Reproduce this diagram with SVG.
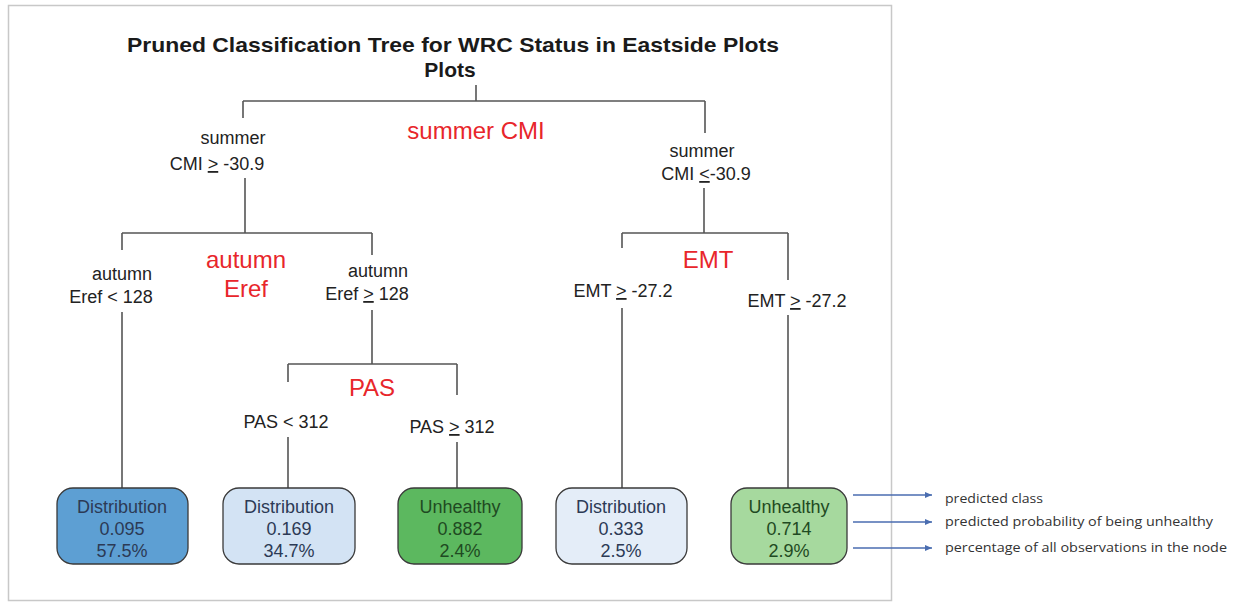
<svg xmlns="http://www.w3.org/2000/svg" width="1233" height="605" viewBox="0 0 1233 605">
<style>
text{font-family:"Liberation Sans",Arial,sans-serif}
.t{font-size:21px;font-weight:bold;fill:#1a1a1a;text-anchor:middle}
.c{font-size:18px;fill:#222;text-anchor:middle}
.r{font-size:24px;fill:#e8262b;text-anchor:middle}
.n{font-size:18px;text-anchor:middle}
.d{fill:#2c3a55}
.u{fill:#1f4a22}
.box{stroke:#3a3a3a;stroke-width:1.3}
.e{stroke:#555;stroke-width:1.6;fill:none}
.a{stroke:#4a6db0;stroke-width:1.3;fill:none;marker-end:url(#ah)}
.l{font-family:"Open Sans","Liberation Sans",sans-serif;font-size:13.5px;fill:#333}
</style>
<defs>
<marker id="ah" markerWidth="8" markerHeight="8" refX="7" refY="4" orient="auto" markerUnits="userSpaceOnUse">
<path d="M0,1 L7,4 L0,7 Z" fill="#4a6db0"/>
</marker>
</defs>
<rect x="0" y="0" width="1233" height="605" fill="#fff"/>
<rect x="8.5" y="5.5" width="883" height="595" fill="#fff" stroke="#c8c8c8" stroke-width="1.5"/>
<text class="t" x="453" y="52" textLength="652" lengthAdjust="spacingAndGlyphs">Pruned Classification Tree for WRC Status in Eastside Plots</text>
<text class="t" x="450" y="77">Plots</text>
<g id="connectors">
<path class="e" d="M476,85 V101 M243,101 H705 M243,101 V118 M705,101 V133"/>
<path class="e" d="M245,178 V233 M122,233 H372 M122,233 V250 M372,233 V255"/>
<path class="e" d="M704,188 V233 M622,233 H788 M622,233 V248 M788,233 V280"/>
<path class="e" d="M122,312 V488"/>
<path class="e" d="M372,310 V364 M288,364 H457 M288,364 V382 M457,364 V395"/>
<path class="e" d="M288,437 V488 M457,442 V488"/>
<path class="e" d="M622,308 V488 M788,315 V488"/>
</g>
<g id="split-root"><text class="r" x="476" y="139">summer CMI</text></g>
<g id="label-l1">
<text class="c" x="233" y="144">summer</text>
<text class="c" x="217" y="170">CMI <tspan text-decoration="underline">&gt;</tspan> -30.9</text>
</g>
<g id="label-r1">
<text class="c" x="702" y="157">summer</text>
<text class="c" x="706" y="180">CMI <tspan text-decoration="underline">&lt;</tspan>-30.9</text>
</g>
<g id="split-eref"><text class="r" x="246" y="268">autumn</text><text class="r" x="246" y="297">Eref</text></g>
<g id="label-eref-l">
<text class="c" x="122" y="280">autumn</text>
<text class="c" x="111" y="303">Eref &lt; 128</text>
</g>
<g id="label-eref-r">
<text class="c" x="378" y="277">autumn</text>
<text class="c" x="367" y="300">Eref <tspan text-decoration="underline">&gt;</tspan> 128</text>
</g>
<g id="split-emt"><text class="r" x="708" y="268">EMT</text></g>
<g id="label-emt-l"><text class="c" x="623" y="297">EMT <tspan text-decoration="underline">&gt;</tspan> -27.2</text></g>
<g id="label-emt-r"><text class="c" x="797" y="307">EMT <tspan text-decoration="underline">&gt;</tspan> -27.2</text></g>
<g id="split-pas"><text class="r" x="372" y="396">PAS</text></g>
<g id="label-pas-l"><text class="c" x="286" y="428">PAS &lt; 312</text></g>
<g id="label-pas-r"><text class="c" x="452" y="433">PAS <tspan text-decoration="underline">&gt;</tspan> 312</text></g>
<g id="leaf1">
<rect class="box" x="57" y="488" width="131" height="76" rx="16" fill="#5d9fd3"/>
<text class="n d" x="122" y="513">Distribution</text>
<text class="n d" x="122" y="535">0.095</text>
<text class="n d" x="122" y="557">57.5%</text>
</g>
<g id="leaf2">
<rect class="box" x="223" y="488" width="132" height="76" rx="16" fill="#d3e3f4"/>
<text class="n d" x="289" y="513">Distribution</text>
<text class="n d" x="289" y="535">0.169</text>
<text class="n d" x="289" y="557">34.7%</text>
</g>
<g id="leaf3">
<rect class="box" x="398" y="488" width="124" height="76" rx="16" fill="#5cb85f"/>
<text class="n u" x="460" y="513">Unhealthy</text>
<text class="n u" x="460" y="535">0.882</text>
<text class="n u" x="460" y="557">2.4%</text>
</g>
<g id="leaf4">
<rect class="box" x="556" y="488" width="131" height="76" rx="16" fill="#e4edf8"/>
<text class="n d" x="621" y="513">Distribution</text>
<text class="n d" x="621" y="535">0.333</text>
<text class="n d" x="621" y="557">2.5%</text>
</g>
<g id="leaf5">
<rect class="box" x="731" y="488" width="116" height="76" rx="16" fill="#a6d99e"/>
<text class="n u" x="789" y="513">Unhealthy</text>
<text class="n u" x="789" y="535">0.714</text>
<text class="n u" x="789" y="557">2.9%</text>
</g>
<g id="legend">
<path class="a" d="M853,495 H932"/>
<path class="a" d="M853,522 H932"/>
<path class="a" d="M853,548 H932"/>
<text class="l" x="945" y="503" textLength="98" lengthAdjust="spacingAndGlyphs">predicted class</text>
<text class="l" x="945" y="526" textLength="268" lengthAdjust="spacingAndGlyphs">predicted probability of being unhealthy</text>
<text class="l" x="945" y="552" textLength="282" lengthAdjust="spacingAndGlyphs">percentage of all observations in the node</text>
</g>
</svg>
